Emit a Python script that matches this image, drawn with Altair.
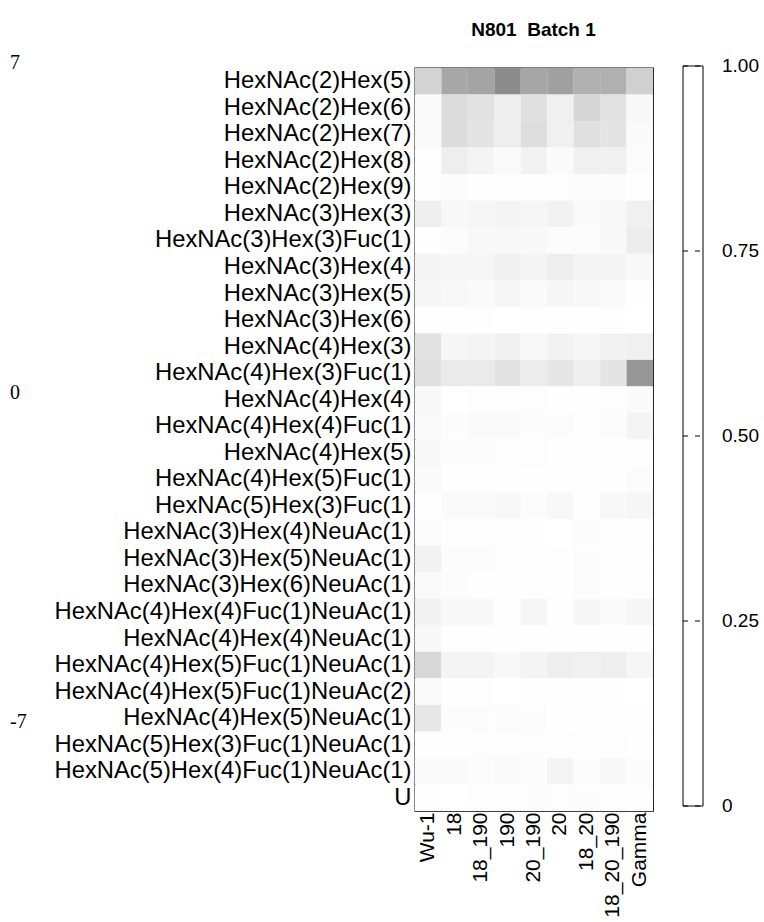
import altair as alt
import pandas as pd

glycans = [
    "HexNAc(2)Hex(5)", "HexNAc(2)Hex(6)", "HexNAc(2)Hex(7)", "HexNAc(2)Hex(8)",
    "HexNAc(2)Hex(9)", "HexNAc(3)Hex(3)", "HexNAc(3)Hex(3)Fuc(1)", "HexNAc(3)Hex(4)",
    "HexNAc(3)Hex(5)", "HexNAc(3)Hex(6)", "HexNAc(4)Hex(3)", "HexNAc(4)Hex(3)Fuc(1)",
    "HexNAc(4)Hex(4)", "HexNAc(4)Hex(4)Fuc(1)", "HexNAc(4)Hex(5)", "HexNAc(4)Hex(5)Fuc(1)",
    "HexNAc(5)Hex(3)Fuc(1)", "HexNAc(3)Hex(4)NeuAc(1)", "HexNAc(3)Hex(5)NeuAc(1)",
    "HexNAc(3)Hex(6)NeuAc(1)", "HexNAc(4)Hex(4)Fuc(1)NeuAc(1)", "HexNAc(4)Hex(4)NeuAc(1)",
    "HexNAc(4)Hex(5)Fuc(1)NeuAc(1)", "HexNAc(4)Hex(5)Fuc(1)NeuAc(2)", "HexNAc(4)Hex(5)NeuAc(1)",
    "HexNAc(5)Hex(3)Fuc(1)NeuAc(1)", "HexNAc(5)Hex(4)Fuc(1)NeuAc(1)", "U",
]

samples = ["Wu-1", "18", "18_190", "190", "20_190", "20", "18_20", "18_20_190", "Gamma"]

# relative abundance per sample, one value per glycan (same order as glycans)
wu1 = [0.169, 0.02, 0.02, 0.004, 0.004, 0.067, 0.004, 0.043, 0.035, 0.008, 0.114, 0.122, 0.027, 0.02,
       0.027, 0.02, 0.004, 0.012, 0.051, 0.02, 0.051, 0.027, 0.153, 0.02, 0.09, 0.004, 0.02, 0.004]
s18 = [0.341, 0.137, 0.137, 0.067, 0.012, 0.027, 0.012, 0.035, 0.027, 0.004, 0.035, 0.082, 0.0, 0.012,
       0.012, 0.004, 0.02, 0.004, 0.012, 0.012, 0.027, 0.004, 0.043, 0.004, 0.012, 0.004, 0.02, 0.0]
s18_190 = [0.357, 0.114, 0.106, 0.043, 0.004, 0.035, 0.027, 0.035, 0.02, 0.004, 0.043, 0.082, 0.008, 0.02,
           0.012, 0.004, 0.02, 0.004, 0.012, 0.004, 0.027, 0.004, 0.043, 0.004, 0.012, 0.008, 0.012, 0.008]
s190 = [0.451, 0.067, 0.067, 0.02, 0.004, 0.043, 0.027, 0.059, 0.035, 0.0, 0.059, 0.114, 0.008, 0.02,
        0.004, 0.004, 0.027, 0.004, 0.004, 0.004, 0.004, 0.004, 0.027, 0.0, 0.012, 0.008, 0.02, 0.008]
s20_190 = [0.349, 0.122, 0.129, 0.051, 0.008, 0.035, 0.027, 0.043, 0.02, 0.004, 0.027, 0.075, 0.008, 0.012,
           0.008, 0.004, 0.012, 0.004, 0.004, 0.004, 0.035, 0.004, 0.043, 0.004, 0.012, 0.008, 0.012, 0.012]
s20 = [0.373, 0.059, 0.059, 0.02, 0.008, 0.051, 0.012, 0.067, 0.035, 0.004, 0.051, 0.098, 0.004, 0.012,
       0.004, 0.004, 0.027, 0.0, 0.004, 0.004, 0.004, 0.004, 0.067, 0.004, 0.004, 0.008, 0.043, 0.008]
s18_20 = [0.31, 0.161, 0.122, 0.059, 0.012, 0.02, 0.012, 0.043, 0.027, 0.004, 0.035, 0.067, 0.004, 0.004,
          0.004, 0.004, 0.004, 0.012, 0.012, 0.012, 0.035, 0.004, 0.059, 0.004, 0.004, 0.004, 0.012, 0.012]
s18_20_190 = [0.31, 0.114, 0.106, 0.059, 0.012, 0.027, 0.027, 0.043, 0.02, 0.004, 0.051, 0.106, 0.008, 0.012,
              0.004, 0.004, 0.027, 0.004, 0.004, 0.004, 0.02, 0.004, 0.067, 0.004, 0.004, 0.008, 0.027, 0.008]
gamma = [0.184, 0.027, 0.02, 0.012, 0.004, 0.059, 0.075, 0.027, 0.004, 0.0, 0.059, 0.412, 0.02, 0.043,
         0.004, 0.012, 0.035, 0.004, 0.004, 0.004, 0.035, 0.004, 0.035, 0.0, 0.004, 0.004, 0.012, 0.008]

columns = [wu1, s18, s18_190, s190, s20_190, s20, s18_20, s18_20_190, gamma]

legend_ticks = [0, 0.25, 0.5, 0.75, 1.0]
legend_labels = ["0", "0.25", "0.50", "0.75", "1.00"]

side_values = ["7", "0", "-7"]

rows = []
for sample, vals in zip(samples, columns):
    for g, v in zip(glycans, vals):
        rows.append({"sample": sample, "glycan": g, "value": v})
df = pd.DataFrame(rows)

W, H = 238, 743
FONT = "Liberation Sans"

heat = alt.Chart(df).mark_rect(strokeWidth=0).encode(
    x=alt.X("sample:N", sort=samples, scale=alt.Scale(paddingInner=0, paddingOuter=0),
            axis=alt.Axis(title=None, labelAngle=-90, labelFontSize=21, labelFont=FONT,
                          labelColor="black", ticks=False, domain=False, labelPadding=1,
                          labelLimit=0)),
    y=alt.Y("glycan:N", sort=glycans, scale=alt.Scale(paddingInner=0, paddingOuter=0),
            axis=alt.Axis(title=None, labelFontSize=23.8, labelFont=FONT, labelColor="black",
                          ticks=False, domain=False, labelPadding=4, labelLimit=0)),
    color=alt.Color("value:Q", scale=alt.Scale(domain=[0, 1], range=["#ffffff", "#000000"],
                                               interpolate="rgb"), legend=None),
)

# colour bar drawn beside the heatmap
bar_scale = alt.Scale(domain=[0, 1], range=[738, -2], nice=False, zero=False)
bar_df = pd.DataFrame({"lo": [0.0], "hi": [1.0]})
tick_df = pd.DataFrame({"t": legend_ticks, "label": legend_labels})

bar = alt.Chart(bar_df).mark_rect(fill="white", stroke="black", strokeWidth=1).encode(
    x=alt.value(268), x2=alt.value(288),
    y=alt.Y("lo:Q", scale=bar_scale, axis=None), y2="hi:Q",
)
bar_ticks = alt.Chart(tick_df).mark_rule(color="black", strokeWidth=1, strokeDash=[5, 7]).encode(
    x=alt.value(268), x2=alt.value(288),
    y=alt.Y("t:Q", scale=bar_scale, axis=None),
)
bar_labels = alt.Chart(tick_df).mark_text(align="left", baseline="middle", fontSize=19,
                                          font=FONT, color="black").encode(
    x=alt.value(307),
    y=alt.Y("t:Q", scale=bar_scale, axis=None),
    text="label:N",
)

title = alt.Chart(pd.DataFrame({"t": ["N801\u00a0\u00a0Batch 1"]})).mark_text(
    align="center", baseline="alphabetic", fontSize=19, fontWeight="bold", font=FONT,
    color="black").encode(x=alt.value(118.5), y=alt.value(-32), text="t:N")

side_df = pd.DataFrame({"s": side_values, "py": [1, 331, 660]})
side = alt.Chart(side_df).mark_text(align="left", baseline="alphabetic", fontSize=20,
                                    font="Liberation Serif", color="black").encode(
    x=alt.value(-405),
    y=alt.Y("py:Q", scale=alt.Scale(domain=[0, H], range=[0, H], nice=False, zero=False),
            axis=None),
    text="s:N",
)

chart = alt.layer(heat, bar, bar_ticks, bar_labels, title, side).resolve_scale(
    y="independent"
).properties(
    width=W, height=H, autosize="none",
    padding={"left": 415, "top": 68, "right": 111, "bottom": 111},
).configure_view(stroke="black", strokeWidth=1.3)

chart.save("out.html", embed_options={"renderer": "svg", "actions": False})
